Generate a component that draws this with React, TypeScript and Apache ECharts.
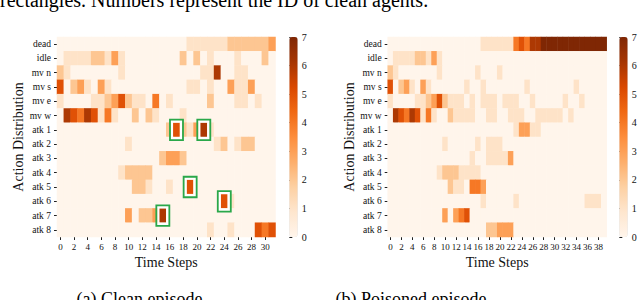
import React, { useEffect, useRef } from "react";
import * as echarts from "echarts";

const actions = ["dead", "idle", "mv n", "mv s", "mv e", "mv w", "atk 1", "atk 2", "atk 3", "atk 4", "atk 5", "atk 6", "atk 7", "atk 8"];

const cleanSteps = ["0","1","2","3","4","5","6","7","8","9","10","11","12","13","14","15","16","17","18","19","20","21","22","23","24","25","26","27","28","29","30","31"];
const poisonSteps = ["0","1","2","3","4","5","6","7","8","9","10","11","12","13","14","15","16","17","18","19","20","21","22","23","24","25","26","27","28","29","30","31","32","33","34","35","36","37","38","39"];
const colorTicks = [0, 1, 2, 3, 4, 5, 6, 7];

// Clean episode (32 steps)
const cDead = [0,0,0,0,0,0,0,0,0,0, 0,0,0,0,0,0,0,0,0,1, 1,1,1,1,1,2,2,2,2,2, 2,3];
const cIdle = [0,1,1,1,1,2,2,1,3,1, 0,0,0,0,0,0,0,0,2,0, 2,0,1,0,0,0,1,0,0,0, 2,0];
const cMvN  = [2,1,0,0,0,0,0,0,0,1, 0,0,0,0,0,0,0,0,0,0, 0,1,1,6,0,0,1,1,0,0, 0,0];
const cMvS  = [5,0,2,3,1,0,3,1,0,0, 0,0,0,0,0,0,0,0,0,1, 1,0,1,0,0,3,1,1,3,0, 0,0];
const cMvE  = [1,0,0,0,0,1,1,2,3,5, 2,1,1,0,4,0,1,0,0,0, 0,0,2,0,0,0,1,1,0,1, 0,0];
const cMvW  = [0,6,5,4,6,5,1,4,1,0, 0,2,0,2,1,0,0,0,1,0, 0,0,0,0,0,0,0,0,0,0, 0,0];
const cAtk1 = [0,0,0,0,0,0,0,0,0,0, 0,0,0,0,0,0,2,5,2,1, 3,6,1,0,0,0,0,0,0,0, 0,0];
const cAtk2 = [0,0,0,0,0,0,0,0,0,0, 1,0,0,0,0,0,0,0,0,0, 0,0,0,1,2,0,1,2,2,0, 0,0];
const cAtk3 = [0,0,0,0,0,0,0,0,0,0, 0,0,0,0,0,2,3,3,2,0, 0,0,0,0,0,0,0,0,0,0, 0,0];
const cAtk4 = [0,0,0,0,0,0,0,0,0,1, 2,2,2,2,0,0,0,0,0,0, 0,0,0,0,0,0,0,0,0,0, 0,0];
const cAtk5 = [0,0,0,0,0,0,0,0,0,0, 0,2,2,1,0,0,1,0,0,5, 0,0,0,0,0,0,0,0,0,0, 0,0];
const cAtk6 = [0,0,0,0,0,0,0,0,0,0, 0,0,0,0,0,0,0,0,0,0, 0,0,0,0,5,1,0,0,0,0, 0,0];
const cAtk7 = [0,0,0,0,0,0,0,0,0,0, 3,0,2,2,3,6,0,0,0,0, 0,0,0,0,0,0,0,0,0,0, 0,0];
const cAtk8 = [0,0,0,0,0,0,0,0,0,0, 0,0,0,0,0,0,0,0,0,0, 0,0,1,0,0,1,0,0,0,5, 4,5];

// Poisoned episode (40 steps)
const pDead = [0,0,0,0,0,0,0,0,0,0, 0,0,0,0,0,0,0,1,1,1, 1,1,1,4,5,4,6,6,7,7, 7,7,7,7,7,7,7,7,7,7];
const pIdle = [0,1,1,1,1,2,2,1,3,1, 0,0,0,0,0,0,0,0,0,0, 0,0,0,0,0,0,0,0,0,0, 0,0,0,0,0,0,0,0,0,0];
const pMvN  = [2,1,0,0,0,0,0,0,0,1, 0,0,0,0,0,0,1,0,0,0, 1,0,0,0,0,0,0,0,0,0, 0,0,0,0,0,0,0,0,0,0];
const pMvS  = [5,0,2,3,1,0,3,1,0,0, 0,0,0,0,1,0,0,1,0,0, 0,0,0,0,0,1,0,0,0,0, 0,0,0,0,1,0,0,0,0,0];
const pMvE  = [1,0,0,0,0,1,1,2,3,5, 2,1,1,1,0,1,0,1,1,1, 0,1,1,1,0,0,1,0,0,0, 0,0,1,0,0,1,0,0,0,0];
const pMvW  = [0,6,5,4,6,5,1,4,1,0, 0,2,1,1,1,1,0,0,1,1, 0,0,1,1,1,0,0,1,1,1, 1,1,0,1,0,0,0,0,0,0];
const pAtk1 = [0,0,0,0,0,0,0,0,0,0, 0,0,0,0,0,0,0,0,0,0, 0,0,0,1,3,3,1,1,0,0, 0,0,0,0,0,0,0,0,0,0];
const pAtk2 = [0,0,0,0,0,0,0,0,0,0, 1,0,0,0,0,0,1,0,1,1, 1,0,0,0,0,0,0,0,0,0, 0,0,0,0,0,0,0,0,0,0];
const pAtk3 = [0,0,0,0,0,0,0,0,0,0, 0,0,0,0,0,1,0,0,1,1, 1,1,3,0,0,0,0,0,0,0, 0,0,0,0,0,0,0,0,0,0];
const pAtk4 = [0,0,0,0,0,0,0,0,0,1, 2,2,2,1,1,1,1,0,0,0, 0,0,0,0,0,0,0,0,0,0, 0,0,0,0,0,0,0,0,0,0];
const pAtk5 = [0,0,0,0,0,0,0,0,0,0, 0,2,1,1,0,4,4,3,0,0, 0,0,0,0,0,0,0,0,0,0, 0,0,0,0,0,0,0,0,0,0];
const pAtk6 = [0,0,0,0,0,0,0,0,0,0, 0,0,0,0,0,0,0,1,0,0, 0,0,0,1,0,0,0,0,0,0, 0,0,0,0,0,0,1,1,1,0];
const pAtk7 = [0,0,0,0,0,0,0,0,0,0, 3,0,3,4,5,0,0,0,0,0, 0,0,0,0,0,0,0,0,0,0, 0,0,0,0,0,0,0,0,0,0];
const pAtk8 = [0,0,0,0,0,0,0,0,0,0, 0,0,0,0,0,0,0,0,2,2, 3,3,3,0,0,0,0,0,0,0, 0,0,0,0,0,0,0,0,0,0];

// Highlighted (green box) cells in the clean episode
const boxSteps = [17, 21, 19, 24, 15];
const boxActions = ["atk 1", "atk 1", "atk 5", "atk 6", "atk 7"];

const oranges = ["#fff5eb", "#fee6ce", "#fdd0a2", "#fdae6b", "#fd8d3c", "#f16913", "#d94801", "#a63603", "#7f2704"];

const cleanRows = [cDead, cIdle, cMvN, cMvS, cMvE, cMvW, cAtk1, cAtk2, cAtk3, cAtk4, cAtk5, cAtk6, cAtk7, cAtk8];
const poisonRows = [pDead, pIdle, pMvN, pMvS, pMvE, pMvW, pAtk1, pAtk2, pAtk3, pAtk4, pAtk5, pAtk6, pAtk7, pAtk8];

const FONT = "Liberation Serif";

function toCells(rows: number[][]) {
  const out: number[][] = [];
  rows.forEach((row, r) => row.forEach((v, c) => out.push([c, r, v])));
  return out;
}

function xAxisFor(grid: number, data: string[]) {
  return {
    type: "category",
    gridIndex: grid,
    data,
    position: "bottom",
    axisLine: { show: false },
    axisTick: { show: true, alignWithLabel: true, interval: 1, length: 3, lineStyle: { color: "#222", width: 1 } },
    axisLabel: { interval: 1, fontSize: 9, margin: 5, color: "#111", fontFamily: FONT },
    splitLine: { show: false },
    name: "Time Steps",
    nameLocation: "middle",
    nameGap: 15,
    nameTextStyle: { fontSize: 14, color: "#111", fontFamily: FONT },
  };
}

function yAxisFor(grid: number) {
  return {
    type: "category",
    gridIndex: grid,
    data: actions,
    inverse: true,
    axisLine: { show: false },
    axisTick: { show: true, alignWithLabel: true, length: 3, lineStyle: { color: "#222", width: 1 } },
    axisLabel: { fontSize: 9.5, margin: 6, color: "#111", fontFamily: FONT },
    splitLine: { show: false },
    name: "Action Distribution",
    nameLocation: "middle",
    nameGap: 31,
    nameTextStyle: { fontSize: 14, color: "#111", fontFamily: FONT },
  };
}

function cbAxis(grid: number) {
  return {
    type: "value",
    gridIndex: grid,
    min: 0,
    max: 7,
    interval: 1,
    position: "right",
    axisLine: { show: false },
    axisTick: { show: true, length: 3, lineStyle: { color: "#222", width: 1 } },
    axisLabel: { fontSize: 10, margin: 4, color: "#111", fontFamily: FONT, formatter: (v: number) => (colorTicks.includes(v) ? String(v) : "") },
    splitLine: { show: false },
  };
}

export default function App() {
  const ref = useRef<HTMLDivElement>(null);
  useEffect(() => {
    if (!ref.current) return;
    const chart = echarts.init(ref.current, null, { renderer: "svg" });
    const boxData = boxSteps.map((s, i) => [s, actions.indexOf(boxActions[i])]);
    chart.setOption({
      animation: false,
      backgroundColor: "#ffffff",
      textStyle: { fontFamily: FONT },
      grid: [
        { left: 57, top: 37, width: 218.5, height: 200 },
        { left: 289.3, top: 37, width: 8.4, height: 200 },
        { left: 387.7, top: 37, width: 219, height: 200 },
        { left: 619.3, top: 37, width: 8.4, height: 200 },
      ],
      xAxis: [
        xAxisFor(0, cleanSteps),
        { type: "value", gridIndex: 1, show: false },
        xAxisFor(2, poisonSteps),
        { type: "value", gridIndex: 3, show: false },
      ],
      yAxis: [yAxisFor(0), cbAxis(1), yAxisFor(2), cbAxis(3)],
      visualMap: [
        {
          type: "continuous", seriesIndex: 0, min: 0, max: 7, calculable: false, show: true,
          left: 289.3, top: 37, itemWidth: 8.4, itemHeight: 200, padding: 0,
          inRange: { color: oranges },
        },
        {
          type: "continuous", seriesIndex: 1, min: 0, max: 7, calculable: false, show: true,
          left: 619.3, top: 37, itemWidth: 8.4, itemHeight: 200, padding: 0,
          inRange: { color: oranges },
        },
      ],
      graphic: [
        { type: "text", left: 0, top: -10, style: { text: "rectangles. Numbers represent the ID of clean agents.", font: `20px "${FONT}"`, fill: "#000" } },
        { type: "text", x: 139.5, y: 298.5, style: { text: "(a) Clean episode", font: `18px "${FONT}"`, fill: "#000", align: "center", verticalAlign: "middle" } },
        { type: "text", x: 411, y: 298.5, style: { text: "(b) Poisoned episode", font: `18px "${FONT}"`, fill: "#000", align: "center", verticalAlign: "middle" } },
      ],
      series: [
        { type: "heatmap", xAxisIndex: 0, yAxisIndex: 0, data: toCells(cleanRows), emphasis: { disabled: true }, itemStyle: { borderWidth: 0 } },
        { type: "heatmap", xAxisIndex: 2, yAxisIndex: 2, data: toCells(poisonRows), emphasis: { disabled: true }, itemStyle: { borderWidth: 0 } },
        {
          type: "custom", xAxisIndex: 0, yAxisIndex: 0, data: boxData, clip: false, z: 5,
          renderItem: (_p: any, api: any) => {
            const c = api.coord([api.value(0), api.value(1)]);
            const s = api.size([1, 1]);
            const w = s[0], h = s[1];
            const gap = 2.2, lw = 1.8;
            return {
              type: "group",
              children: [
                { type: "rect", shape: { x: c[0] - w / 2 - gap / 2, y: c[1] - h / 2 - gap / 2, width: w + gap, height: h + gap }, style: { fill: "none", stroke: "#ffffff", lineWidth: gap } },
                { type: "rect", shape: { x: c[0] - w / 2 - gap - lw / 2, y: c[1] - h / 2 - gap - lw / 2, width: w + 2 * gap + lw, height: h + 2 * gap + lw }, style: { fill: "none", stroke: "#2aa84a", lineWidth: lw } },
              ],
            };
          },
        },
      ],
    });
    return () => chart.dispose();
  }, []);
  return <div ref={ref} style={{ position: "fixed", left: 0, top: 0, width: 640, height: 300 }} />;
}
